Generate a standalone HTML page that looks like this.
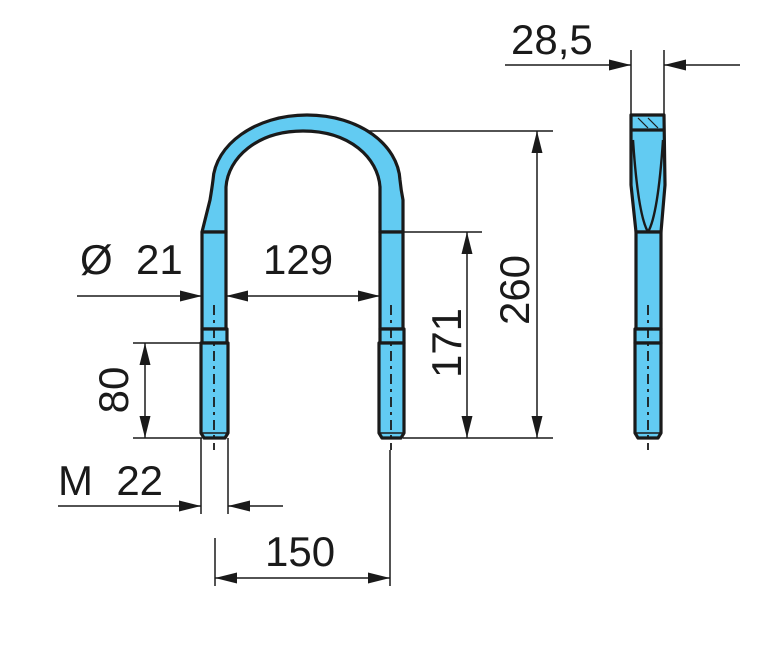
<!DOCTYPE html><html><head><style>body{margin:0;background:#fff}svg{display:block}text{font-family:"Liberation Sans",Arial,sans-serif;font-size:42px;fill:#1a1a1a}</style></head><body>
<svg width="775" height="654" viewBox="0 0 775 654" xmlns="http://www.w3.org/2000/svg">
<defs><marker id="a" viewBox="0 0 20 10" refX="20" refY="5" markerWidth="22" markerHeight="11" markerUnits="userSpaceOnUse" orient="auto-start-reverse"><path d="M0,0L20,5L0,10z" fill="#1a1a1a"/></marker></defs>
<g stroke="#1a1a1a" stroke-width="1.5" fill="none">
<line x1="330" y1="131" x2="553" y2="131"/>
<line x1="403" y1="232" x2="482" y2="232"/>
<line x1="403" y1="438" x2="553" y2="438"/>
<line x1="133" y1="343" x2="226" y2="343"/>
<line x1="133" y1="438" x2="202" y2="438"/>
<line x1="201" y1="438" x2="201" y2="514"/>
<line x1="228" y1="438" x2="228" y2="514"/>
<line x1="215" y1="538" x2="215" y2="586"/>
<line x1="390" y1="450" x2="390" y2="586"/>
<line x1="631" y1="50" x2="631" y2="115"/>
<line x1="664" y1="50" x2="664" y2="115"/>
<line x1="537" y1="131" x2="537" y2="438" marker-start="url(#a)" marker-end="url(#a)"/>
<line x1="467" y1="232" x2="467" y2="438" marker-start="url(#a)" marker-end="url(#a)"/>
<line x1="145" y1="343" x2="145" y2="438" marker-start="url(#a)" marker-end="url(#a)"/>
<line x1="226" y1="296" x2="380" y2="296" marker-start="url(#a)" marker-end="url(#a)"/>
<line x1="77" y1="296" x2="202" y2="296" marker-end="url(#a)"/>
<line x1="58" y1="506" x2="201" y2="506" marker-end="url(#a)"/>
<line x1="283" y1="506" x2="228" y2="506" marker-end="url(#a)"/>
<line x1="215" y1="578" x2="390" y2="578" marker-start="url(#a)" marker-end="url(#a)"/>
<line x1="505" y1="65" x2="631" y2="65" marker-end="url(#a)"/>
<line x1="740" y1="65" x2="664" y2="65" marker-end="url(#a)"/>
</g>
<g stroke="#1a1a1a" stroke-width="3.2" fill="#62cbf2" stroke-linejoin="round">
<path d="M202,232 L210,200 Q212,188 213,180 C215,145 255,115 307,115 C360,115 398,145 400,180 Q401,190 403,200 L403,232 L380,232 L380,187 C378,158 350,131 303,131 C257,131 228,158 226,187 L226,232 Z"/>
<rect x="202" y="232" width="24" height="97"/>
<rect x="380" y="232" width="23" height="97"/>
<rect x="202" y="329" width="25" height="14"/>
<rect x="380" y="329" width="24" height="14"/>
<path d="M201,343 H228 V433 L225,438 H204 L201,433 Z"/>
<path d="M379,343 H404 V433 L401,438 H382 L379,433 Z"/>
<line x1="202" y1="433" x2="227" y2="433" stroke-width="1.5"/>
<line x1="380" y1="433" x2="403" y2="433" stroke-width="1.5"/>
<path d="M631,115 H664 L665,185 L661,232 H636 L631,185 Z"/>
<line x1="631" y1="130" x2="664" y2="130"/>
<path d="M633,140 Q638,215 648,232 Q658,215 663,140" fill="none" stroke-width="2.4"/>
<rect x="636" y="232" width="25" height="97"/>
<rect x="635" y="329" width="26" height="14"/>
<path d="M635,343 H661 V433 L658,438 H638 L635,433 Z"/>
<line x1="636" y1="433" x2="660" y2="433" stroke-width="1.5"/>
</g>
<g stroke="#1a1a1a" stroke-width="1.2"><line x1="638" y1="118" x2="648" y2="128"/><line x1="648" y1="118" x2="658" y2="128"/></g>
<g stroke="#1a1a1a" stroke-width="1.8" stroke-dasharray="10,5,3,5">
<line x1="214" y1="305" x2="214" y2="450"/>
<line x1="391" y1="305" x2="391" y2="450"/>
<line x1="648" y1="305" x2="648" y2="450"/>
</g>
<text x="80" y="274" xml:space="preserve">Ø  21</text>
<text x="263" y="274">129</text>
<text x="58" y="495" xml:space="preserve">M  22</text>
<text x="265" y="566">150</text>
<text x="511" y="54">28,5</text>
<text transform="translate(128,390) rotate(-90)" text-anchor="middle">80</text>
<text transform="translate(461,343) rotate(-90)" text-anchor="middle">171</text>
<text transform="translate(529,290) rotate(-90)" text-anchor="middle">260</text>
</svg></body></html>
